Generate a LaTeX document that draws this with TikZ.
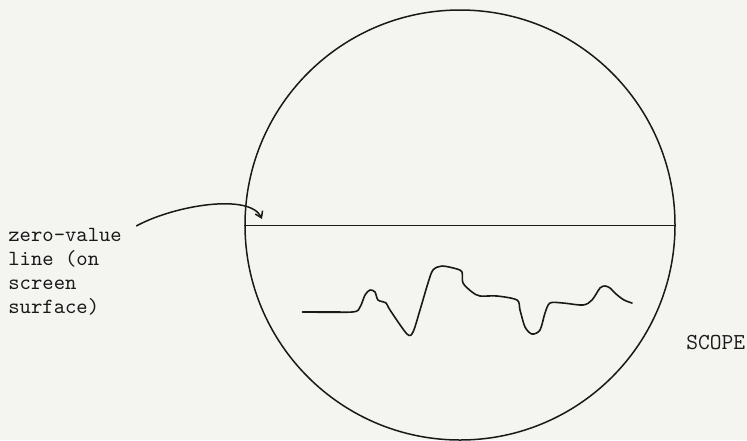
\documentclass[tikz,border=0pt]{standalone}
\usepackage{fontspec}
\usetikzlibrary{arrows.meta, positioning}
\definecolor{paper}{RGB}{244, 244, 240}
\definecolor{ink}{RGB}{25, 25, 25}

\begin{document}
\begin{tikzpicture}[
    x=0.5pt, y=-0.5pt,
    screen/.style={circle, draw=ink, line width=0.75pt, minimum size=215pt, inner sep=0pt},
    zeroline/.style={draw=ink, line width=0.45pt},
    trace/.style={draw=ink, line width=0.8pt, line join=round, line cap=round},
    lead/.style={draw=ink, line width=0.75pt, -{Straight Barb[length=3pt, width=4pt]}},
    note/.style={font=\ttfamily\fontsize{10.8}{12}\selectfont, text=ink, align=left, inner sep=0pt}
]

% fond et cadre
\fill[paper] (0,0) rectangle (747,440);
\useasboundingbox (0,0) rectangle (747,440);

% ecran
\node[screen] (scope) at (460,225) {};
\draw[zeroline] (scope.west) -- (scope.east);

% textes
\node[note, anchor=north west] (zero) at (8,228) {zero-value\\line (on\\screen\\surface)};
\node[note, anchor=base west, font=\ttfamily\fontsize{11.4}{12}\selectfont] (name) at (686,349) {SCOPE};

% fleche
\coordinate (tip) at (262,219);
\draw[lead] ([xshift=7pt, yshift=1pt]zero.north east) .. controls (175,205) and (250,193) .. (tip);

% signal
\draw[trace, line width=1.4pt] (303,312) -- (340,312);
\draw[trace] plot[smooth, tension=0.5] coordinates {
    (303,312) (352,312) (360,307) (365,295) (370,290) (375,292) (378,300)
    (386,303) (390,310) (407,334) (413,332) (420,310) (428,283) (433,270)
    (442,266) (457,269) (462,272) (463,283) (472,292) (480,296) (497,296)
    (517,300) (520,310) (525,327) (532,334) (540,330) (545,313) (550,303)
    (563,303) (583,305) (592,300) (600,288) (605,286) (610,288) (616,294)
    (624,300) (632,303)};

\end{tikzpicture}
\end{document}
